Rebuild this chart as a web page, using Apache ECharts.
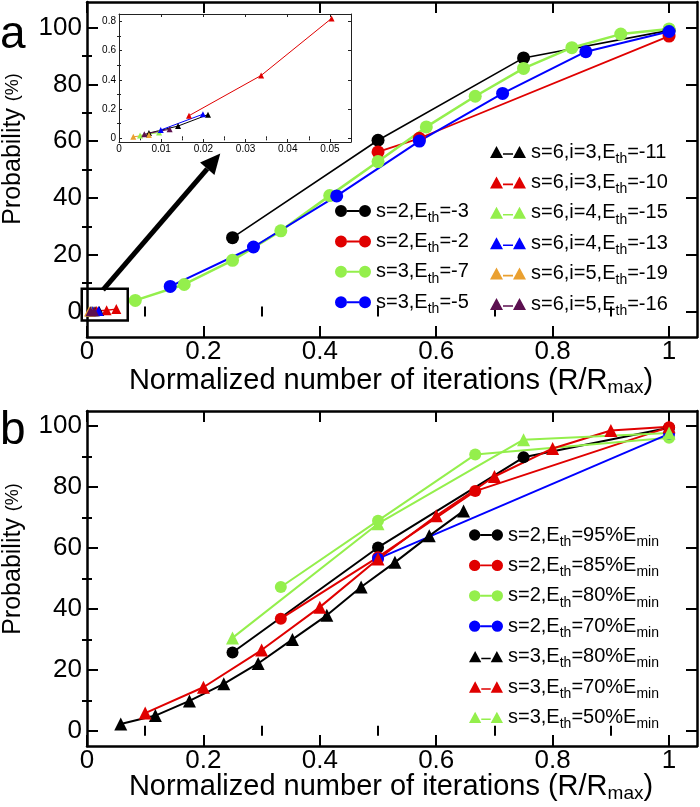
<!DOCTYPE html>
<html><head><meta charset="utf-8">
<script src="https://cdn.jsdelivr.net/npm/echarts@6/dist/echarts.min.js"></script>
<style>html,body{margin:0;padding:0;background:#fff}#c{width:700px;height:807px}</style>
</head><body><div id="c"></div>
<script>
// ---------- tick values ----------
const xTicksMain = [0, 0.2, 0.4, 0.6, 0.8, 1];
const xMinorMain = [0.1, 0.3, 0.5, 0.7, 0.9];
const yTicksMain = [0, 20, 40, 60, 80, 100];
const yMinorMain = [10, 30, 50, 70, 90];
const xTicksInset = [0, 0.01, 0.02, 0.03, 0.04, 0.05];
const xMinorInset = [0.005, 0.015, 0.025, 0.035, 0.045];
const yTicksInset = [0, 0.2, 0.4, 0.6, 0.8];
const yMinorInset = [0.1, 0.3, 0.5, 0.7];

// ---------- panel a : circles ----------
const a_s2_e3 = [[0.25, 26], [0.5, 60.3], [0.75, 89.3], [1, 99]];
const a_s2_e2 = [[0.5, 56.2], [0.571, 61], [1, 97]];
const a_s3_e7 = [[0.083, 3.9], [0.167, 9.5], [0.25, 18], [0.333, 28.4], [0.417, 40.8], [0.5, 52.8], [0.583, 65], [0.667, 75.8], [0.75, 85.6], [0.833, 92.9], [0.917, 97.7], [1, 99.5]];
const a_s3_e5 = [[0.143, 8.8], [0.286, 22.7], [0.429, 40.7], [0.571, 60], [0.714, 76.8], [0.857, 91.5], [1, 98.6]];
// ---------- panel a : triangles (also drawn in inset) ----------
const a_s6_i3_e11 = [[0.0071, 0.036], [0.014, 0.084], [0.0211, 0.162]];
const a_s6_i3_e10 = [[0.0166, 0.155], [0.0337, 0.43], [0.0504, 0.82]];
const a_s6_i4_e15 = [[0.005, 0.02], [0.0095, 0.04]];
const a_s6_i4_e13 = [[0.0099, 0.057], [0.0199, 0.165]];
const a_s6_i5_e19 = [[0.0034, 0.011], [0.0071, 0.022]];
const a_s6_i5_e16 = [[0.006, 0.028], [0.012, 0.062]];

// ---------- panel b ----------
const b_s2_95 = [[0.25, 25.7], [0.5, 60.2], [0.75, 89.8], [1, 99.5]];
const b_s2_85 = [[0.333, 36.8], [0.5, 57], [0.667, 78.7], [1, 99.7]];
const b_s2_80 = [[0.333, 47.2], [0.5, 69], [0.667, 90.7], [1, 96.2]];
const b_s2_70 = [[0.5, 56.5], [1, 97.5]];
const b_s3_80 = [[0.058, 2.2], [0.1175, 5], [0.176, 9.8], [0.235, 15.4], [0.294, 22.1], [0.353, 30], [0.412, 37.9], [0.471, 47.2], [0.529, 55.3], [0.588, 64], [0.647, 72.2]];
const b_s3_70 = [[0.1, 5.8], [0.2, 14.3], [0.3, 26.5], [0.4, 40.6], [0.5, 56.4], [0.6, 70.6], [0.7, 83.5], [0.8, 92.7], [0.9, 98.6], [1, 99.8]];
const b_s3_50 = [[0.25, 30.5], [0.5, 68], [0.75, 95.6], [1, 97.8]];

// ---------- legend labels ----------
const aCircleNames = ['s=2,E_th=-3', 's=2,E_th=-2', 's=3,E_th=-7', 's=3,E_th=-5'];
const aTriNames = ['s=6,i=3,E_th=-11', 's=6,i=3,E_th=-10', 's=6,i=4,E_th=-15', 's=6,i=4,E_th=-13', 's=6,i=5,E_th=-19', 's=6,i=5,E_th=-16'];
const bNames = ['s=2,E_th=95%E_min', 's=2,E_th=85%E_min', 's=2,E_th=80%E_min', 's=2,E_th=70%E_min', 's=3,E_th=80%E_min', 's=3,E_th=70%E_min', 's=3,E_th=50%E_min'];

const BLACK = '#000000', RED = '#e00000', GREEN = '#94ef4c', BLUE = '#0000ff', ORANGE = '#eaa030', PURPLE = '#5c1050';
const FONT = '"Liberation Sans", Arial, Helvetica, sans-serif';

function richName(n) {
  return n.split(/(_th|_min)/).filter(s => s.length).map(s => {
    if (s === '_th') return '{s|th}';
    if (s === '_min') return '{s|min}';
    return '{t|' + s + '}';
  }).join('');
}
const legendRich = {
  t: { fontSize: 20, fontFamily: FONT, color: '#000', lineHeight: 22 },
  s: { fontSize: 14, fontFamily: FONT, color: '#000', lineHeight: 22, padding: [14, 0, 0, 0] }
};

function fmt(v) { return String(+(+v).toFixed(3)); }

function axisSet(dim, grid, min, max, majors, minors, opts) {
  const pos = dim === 'x' ? ['bottom', 'top'] : ['left', 'right'];
  const lw = opts.lineWidth, majL = opts.majLen, minL = opts.minLen;
  const base = { type: 'value', gridIndex: grid, min: min, max: max, splitLine: { show: false }, scale: false };
  const line = { show: true, onZero: false, lineStyle: { color: opts.color, width: lw } };
  const res = [];
  res.push(Object.assign({}, base, {
    position: pos[0], axisLine: line,
    axisTick: { show: true, inside: true, length: majL, customValues: majors, lineStyle: { color: opts.color, width: opts.tickWidth } },
    axisLabel: { show: true, customValues: majors, formatter: fmt, fontSize: opts.fontSize, fontFamily: FONT, color: '#000', margin: opts.margin }
  }));
  res.push(Object.assign({}, base, {
    position: pos[0], axisLine: { show: false },
    axisTick: { show: true, inside: true, length: minL, customValues: minors, lineStyle: { color: opts.color, width: opts.tickWidth } },
    axisLabel: { show: false }
  }));
  res.push(Object.assign({}, base, {
    position: pos[1], axisLine: line,
    axisTick: { show: true, inside: true, length: majL, customValues: majors, lineStyle: { color: opts.color, width: opts.tickWidth } },
    axisLabel: { show: false }
  }));
  res.push(Object.assign({}, base, {
    position: pos[1], axisLine: { show: false },
    axisTick: { show: true, inside: true, length: minL, customValues: minors, lineStyle: { color: opts.color, width: opts.tickWidth } },
    axisLabel: { show: false }
  }));
  return res;
}

const mainAx = { lineWidth: 2.5, tickWidth: 2, majLen: 11, minLen: 5, fontSize: 26, color: '#000' };
const insetAx = { lineWidth: 1, tickWidth: 1, majLen: 3, minLen: 2, fontSize: 10, color: '#222' };

const xAxes = [].concat(
  axisSet('x', 0, 0, 1.048, xTicksMain, xMinorMain, Object.assign({ margin: 2 }, mainAx)),
  axisSet('x', 1, 0, 0.055, xTicksInset, xMinorInset, Object.assign({ margin: 2 }, insetAx)),
  axisSet('x', 2, 0, 1.048, xTicksMain, xMinorMain, Object.assign({ margin: 2 }, mainAx))
);
const yAxes = [].concat(
  axisSet('y', 0, -9, 109, yTicksMain, yMinorMain, Object.assign({ margin: 5 }, mainAx)),
  axisSet('y', 1, -0.025, 0.85, yTicksInset, yMinorInset, Object.assign({ margin: 3 }, insetAx)),
  axisSet('y', 2, -5, 105, yTicksMain, yMinorMain, Object.assign({ margin: 5 }, mainAx))
);

function ser(name, data, color, symbol, size, lw, axisIdx) {
  return {
    type: 'line', name: name, data: data, xAxisIndex: axisIdx, yAxisIndex: axisIdx,
    symbol: symbol, symbolSize: size, showSymbol: true, animation: false,
    color: color, itemStyle: { color: color }, lineStyle: { color: color, width: lw },
    emphasis: { disabled: true }, z: 2, clip: false
  };
}

const series = [
  // panel a main, triangles first (under the circles)
  ser(aTriNames[0], a_s6_i3_e11, BLACK, 'triangle', 10, 1.5, 0),
  ser(aTriNames[1], a_s6_i3_e10, RED, 'triangle', 10, 1.5, 0),
  ser(aTriNames[2], a_s6_i4_e15, GREEN, 'triangle', 10, 1.5, 0),
  ser(aTriNames[3], a_s6_i4_e13, BLUE, 'triangle', 10, 1.5, 0),
  ser(aTriNames[4], a_s6_i5_e19, ORANGE, 'triangle', 10, 1.5, 0),
  ser(aTriNames[5], a_s6_i5_e16, PURPLE, 'triangle', 10, 1.5, 0),
  ser(aCircleNames[0], a_s2_e3, BLACK, 'circle', 13, 1.6, 0),
  ser(aCircleNames[1], a_s2_e2, RED, 'circle', 13, 1.8, 0),
  ser(aCircleNames[2], a_s3_e7, GREEN, 'circle', 13, 2.5, 0),
  ser(aCircleNames[3], a_s3_e5, BLUE, 'circle', 13, 2, 0),
  // inset
  ser(aTriNames[0], a_s6_i3_e11, BLACK, 'triangle', 6, 1, 4),
  ser(aTriNames[1], a_s6_i3_e10, RED, 'triangle', 6, 1, 4),
  ser(aTriNames[2], a_s6_i4_e15, GREEN, 'triangle', 6, 1, 4),
  ser(aTriNames[3], a_s6_i4_e13, BLUE, 'triangle', 6, 1, 4),
  ser(aTriNames[4], a_s6_i5_e19, ORANGE, 'triangle', 6, 1, 4),
  ser(aTriNames[5], a_s6_i5_e16, PURPLE, 'triangle', 6, 1, 4),
  // panel b
  ser(bNames[0], b_s2_95, BLACK, 'circle', 12, 2, 8),
  ser(bNames[1], b_s2_85, RED, 'circle', 12, 2, 8),
  ser(bNames[2], b_s2_80, GREEN, 'circle', 12, 2, 8),
  ser(bNames[3], b_s2_70, BLUE, 'circle', 12, 2, 8),
  ser(bNames[4], b_s3_80, BLACK, 'triangle', 13, 2, 8),
  ser(bNames[5], b_s3_70, RED, 'triangle', 13, 2, 8),
  ser(bNames[6], b_s3_50, GREEN, 'triangle', 13, 2, 8)
];

const iconCircles = 'path://M0,6 A6,6 0 1,0 12,6 A6,6 0 1,0 0,6 Z M12,5 L24,5 L24,7 L12,7 Z M24,6 A6,6 0 1,0 36,6 A6,6 0 1,0 24,6 Z';
const iconTris = 'path://M0,12 L6.5,0 L13,12 Z M13,7.2 L23,7.2 L23,8.8 L13,8.8 Z M23,12 L29.5,0 L36,12 Z';

function legend(names, icon, left, top, w) {
  return {
    orient: 'vertical', left: left, top: top, itemWidth: w, itemHeight: 12, itemGap: 2.4,
    icon: icon, data: names, selectedMode: false, padding: 0,
    formatter: richName, textStyle: { rich: legendRich, fontSize: 20, fontFamily: FONT, color: '#000' },
    inactiveColor: '#000'
  };
}

const option = {
  backgroundColor: '#fff',
  animation: false,
  grid: [
    { left: 87, right: 3, top: 2, bottom: 470 },
    { left: 119, right: 349, top: 14, bottom: 665 },
    { left: 87, right: 3, top: 411, bottom: 61 }
  ],
  xAxis: xAxes,
  yAxis: yAxes,
  legend: [
    legend(aCircleNames, iconCircles, 335, 197, 36),
    legend(aTriNames, iconTris, 490, 138, 36),
    legend(bNames, iconCircles, 469, 521, 34)
  ],
  series: series
};
option.legend[2].data = bNames.map((n, i) => ({ name: n, icon: i < 4 ? iconCircles : iconTris }));

const chart = echarts.init(document.getElementById('c'), null, { renderer: 'canvas' });
chart.setOption(option);

// ---------- annotations positioned through the axes ----------
const boxA = chart.convertToPixel({ gridIndex: 0 }, [-0.009, 8]);
const boxB = chart.convertToPixel({ gridIndex: 0 }, [0.07, -3.2]);
const arr0 = chart.convertToPixel({ gridIndex: 0 }, [0.0275, 7.6]);
const arr1 = chart.convertToPixel({ gridIndex: 0 }, [0.229, 55.6]);
const dx = arr1[0] - arr0[0], dy = arr1[1] - arr0[1];
const L = Math.sqrt(dx * dx + dy * dy), ux = dx / L, uy = dy / L;
const headLen = 20, headW = 9.5;
const bx = arr1[0] - ux * headLen, by = arr1[1] - uy * headLen;

const titleRich = {
  a: { fontSize: 29, fontFamily: FONT, color: '#000' },
  p: { fontSize: 18, fontFamily: FONT, color: '#000' },
  y: { fontSize: 25, fontFamily: FONT, color: '#000' },
  m: { fontSize: 19, fontFamily: FONT, color: '#000', padding: [13, 0, 0, 0] }
};
const xTitle = '{a|Normalized number of iterations (R/R}{m|max}{a|)}';
const yTitle = '{y|Probability }{p|(%)}';

chart.setOption({
  graphic: [
    { type: 'rect', shape: { x: boxA[0], y: boxA[1], width: boxB[0] - boxA[0], height: boxB[1] - boxA[1] },
      style: { fill: 'none', stroke: '#000', lineWidth: 2.5 }, z: 100 },
    { type: 'line', shape: { x1: arr0[0], y1: arr0[1], x2: bx, y2: by }, style: { stroke: '#000', lineWidth: 5 }, z: 100 },
    { type: 'polygon', shape: { points: [[arr1[0], arr1[1]], [bx - uy * headW, by + ux * headW], [bx + uy * headW, by - ux * headW]] },
      style: { fill: '#000' }, z: 100 },
    { type: 'text', x: 391, y: 381, z: 100, style: { text: xTitle, rich: titleRich, align: 'center', verticalAlign: 'middle' } },
    { type: 'text', x: 391, y: 787, z: 100, style: { text: xTitle, rich: titleRich, align: 'center', verticalAlign: 'middle' } },
    { type: 'text', x: 13, y: 149, rotation: Math.PI / 2, z: 100, style: { text: yTitle, rich: titleRich, align: 'center', verticalAlign: 'middle' } },
    { type: 'text', x: 13, y: 559, rotation: Math.PI / 2, z: 100, style: { text: yTitle, rich: titleRich, align: 'center', verticalAlign: 'middle' } },
    { type: 'text', x: 0, y: 12, z: 100, style: { text: 'a', font: '46px ' + FONT, fill: '#000' } },
    { type: 'text', x: 0, y: 408, z: 100, style: { text: 'b', font: '46px ' + FONT, fill: '#000' } }
  ]
});
</script>
</body></html>
